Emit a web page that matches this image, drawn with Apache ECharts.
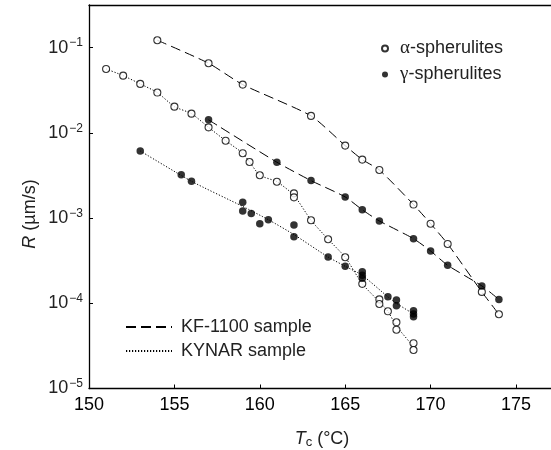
<!DOCTYPE html>
<html>
<head>
<meta charset="utf-8">
<script src="https://cdn.jsdelivr.net/npm/echarts@6/dist/echarts.min.js"></script>
<style>
  html, body { margin: 0; padding: 0; background: #fff; }
  #chart { width: 551px; height: 450px; }
</style>
</head>
<body>
<div id="chart"></div>
<script>
// Crystallization temperature Tc (°C) and spherulite growth rate R (µm/s)

// KF-1100 sample
const kfAlphaT = [154, 157, 159, 163, 165, 166, 167, 169, 170, 171, 173, 174];
const kfAlphaR = [0.122, 0.0656, 0.0368, 0.0158, 0.00708, 0.00485, 0.00367, 0.00144, 0.000859, 0.000497, 0.000136, 0.0000743];
const kfGammaT = [157, 161, 163, 165, 166, 167, 169, 170, 171, 173, 174];
const kfGammaR = [0.0142, 0.00452, 0.00275, 0.00177, 0.00125, 0.000925, 0.000573, 0.000411, 0.000279, 0.000160, 0.000111];

// KYNAR sample
const kynarAlphaT = [151, 152, 153, 154, 155, 156, 157, 158, 159, 159.4, 160, 161, 162, 162, 163, 164, 165, 166, 167, 167, 167.5, 168, 168, 169, 169];
const kynarAlphaR = [0.0562, 0.0469, 0.0375, 0.0297, 0.0203, 0.0168, 0.0116, 0.00809, 0.00577, 0.00455, 0.00318, 0.00267, 0.00195, 0.00175, 0.000942, 0.000564, 0.000347, 0.000169, 0.000111, 0.000098, 0.0000805, 0.0000598, 0.000049, 0.000034, 0.0000283];
const kynarGammaT = [153, 155.4, 156, 159, 159, 159.5, 160, 160.5, 162, 162, 164, 165, 166, 166, 166, 167.5, 168, 168, 169, 169, 169];
const kynarGammaR = [0.00613, 0.00323, 0.0027, 0.00153, 0.00121, 0.00113, 0.000859, 0.000957, 0.00083, 0.000605, 0.000349, 0.000272, 0.000235, 0.000213, 0.000196, 0.000119, 0.000109, 0.0000937, 0.0000818, 0.0000748, 0.0000697];

// Trend curves drawn through the KYNAR points
const kynarAlphaLineT = [151, 152, 153, 154, 155, 156, 157, 158, 159, 159.4, 160, 161, 162, 163, 164, 165, 166, 167, 167.5, 168, 169];
const kynarAlphaLineR = [0.0562, 0.0469, 0.0375, 0.0297, 0.0203, 0.0168, 0.0116, 0.00809, 0.00577, 0.00455, 0.00318, 0.00267, 0.00185, 0.000942, 0.000564, 0.000347, 0.000169, 0.000104, 0.0000805, 0.000054, 0.000031];
const kynarGammaLineT = [153, 156, 159, 160.5, 162, 164, 165, 166, 167.5, 168, 169];
const kynarGammaLineR = [0.00613, 0.0027, 0.00137, 0.000957, 0.00064, 0.000349, 0.000272, 0.000213, 0.000119, 0.0001, 0.0000748];

const xTicks = [150, 155, 160, 165, 170, 175];

const INK = '#000';
const FONT = '"Liberation Sans", Arial, Helvetica, sans-serif';

function pairs(xs, ys) { return xs.map((x, i) => [x, ys[i]]); }

function openSeries(name, xs, ys) {
  return {
    name: name, type: 'scatter', data: pairs(xs, ys), z: 5,
    symbol: 'circle', symbolSize: 7,
    itemStyle: { color: '#fff', borderColor: INK, borderWidth: 1.1 }
  };
}
function filledSeries(name, xs, ys) {
  return {
    name: name, type: 'scatter', data: pairs(xs, ys), z: 5,
    symbol: 'circle', symbolSize: 7.5,
    itemStyle: { color: INK, borderColor: INK, borderWidth: 0 }
  };
}
function curve(name, xs, ys, dash) {
  return {
    name: name, type: 'line', data: pairs(xs, ys), z: 2,
    symbol: 'none', smooth: 0.2,
    lineStyle: { color: INK, width: 1, type: dash },
    itemStyle: { color: INK }
  };
}

const LONG_DASH = [10, 5];
const DOTS = [1.2, 1.8];

const chart = echarts.init(document.getElementById('chart'), null, { renderer: 'canvas' });

chart.setOption({
  animation: false,
  backgroundColor: '#fff',
  textStyle: { fontFamily: FONT },
  grid: { left: 89, top: 5, right: 0, bottom: 61.5 },
  xAxis: [
    {
      type: 'value', min: xTicks[0], max: 177.05, interval: 5,
      axisLine: { show: true, lineStyle: { color: INK, width: 1.3 } },
      axisTick: { show: true, inside: true, length: 4, lineStyle: { color: INK } },
      axisLabel: {
        color: INK, fontSize: 18, margin: 8, fontFamily: FONT,
        showMaxLabel: false,
        formatter: v => (xTicks.indexOf(v) >= 0 ? String(v) : '')
      },
      splitLine: { show: false }
    },
    {
      // top frame line
      type: 'value', position: 'top', min: xTicks[0], max: 177.05,
      axisLine: { show: true, lineStyle: { color: INK, width: 1.3 } },
      axisTick: { show: false }, axisLabel: { show: false }, splitLine: { show: false }
    }
  ],
  yAxis: {
    type: 'log', logBase: 10, min: 1e-5, max: 0.31623,
    axisLine: { show: true, lineStyle: { color: INK, width: 1.3 } },
    axisTick: { show: true, inside: true, length: 4, lineStyle: { color: INK } },
    minorTick: { show: false },
    splitLine: { show: false },
    axisLabel: {
      color: INK, margin: 6, showMaxLabel: false,
      formatter: function (v) {
        const e = Math.log10(v);
        if (Math.abs(e - Math.round(e)) > 1e-6) return '';
        return '{b|10}{s|\u2212' + Math.abs(Math.round(e)) + '}';
      },
      rich: {
        b: { fontSize: 18, fontFamily: FONT, color: '#222' },
        s: { fontSize: 12, fontFamily: FONT, color: '#222', verticalAlign: 'top', padding: [0, 0, 9, 1] }
      }
    }
  },
  legend: [
    {
      data: ['α-spherulites', 'γ-spherulites'],
      orient: 'vertical', left: 376, top: 34,
      itemWidth: 6, itemHeight: 6, itemGap: 7,
      selectedMode: false,
      formatter: n => '{g|' + n.charAt(0) + '}{t|' + n.slice(1) + '}',
      textStyle: {
        color: '#222', padding: [0, 0, 0, 7],
        rich: {
          g: { fontSize: 19, fontFamily: '"Liberation Serif", "DejaVu Serif", serif', color: '#222' },
          t: { fontSize: 18, fontFamily: FONT, color: '#222' }
        }
      }
    },
    {
      data: ['KF-1100 sample', 'KYNAR sample'],
      orient: 'vertical', left: 120, top: 313,
      itemWidth: 46, itemHeight: 10, itemGap: 6,
      selectedMode: false,
      itemStyle: { opacity: 0 },
      textStyle: { color: '#222', fontSize: 18, fontFamily: FONT, padding: [0, 0, 0, 4] }
    }
  ],
  graphic: [
    {
      type: 'text', x: 30, y: 214, rotation: Math.PI / 2,
      style: {
        text: '{i|R}{n| (µm/s)}',
        align: 'center', verticalAlign: 'middle',
        rich: {
          i: { fontSize: 18, fontStyle: 'italic', fontFamily: FONT, fill: '#222' },
          n: { fontSize: 18, fontFamily: FONT, fill: '#222' }
        }
      }
    },
    {
      type: 'text', x: 322, y: 439,
      style: {
        text: '{i|T}{c|c}{n| (°C)}',
        align: 'center', verticalAlign: 'middle',
        rich: {
          i: { fontSize: 18, fontStyle: 'italic', fontFamily: FONT, fill: '#222' },
          c: { fontSize: 13, fontFamily: FONT, fill: '#222', verticalAlign: 'bottom', padding: [6, 0, 0, 0] },
          n: { fontSize: 18, fontFamily: FONT, fill: '#222' }
        }
      }
    }
  ],
  series: [
    curve('KF-1100 sample', kfAlphaT, kfAlphaR, LONG_DASH),
    curve('KF-1100 sample', kfGammaT, kfGammaR, LONG_DASH),
    curve('KYNAR sample', kynarAlphaLineT, kynarAlphaLineR, DOTS),
    curve('KYNAR sample', kynarGammaLineT, kynarGammaLineR, DOTS),
    openSeries('α-spherulites', kfAlphaT, kfAlphaR),
    openSeries('α-spherulites', kynarAlphaT, kynarAlphaR),
    filledSeries('γ-spherulites', kfGammaT, kfGammaR),
    filledSeries('γ-spherulites', kynarGammaT, kynarGammaR)
  ]
});
</script>
</body>
</html>
